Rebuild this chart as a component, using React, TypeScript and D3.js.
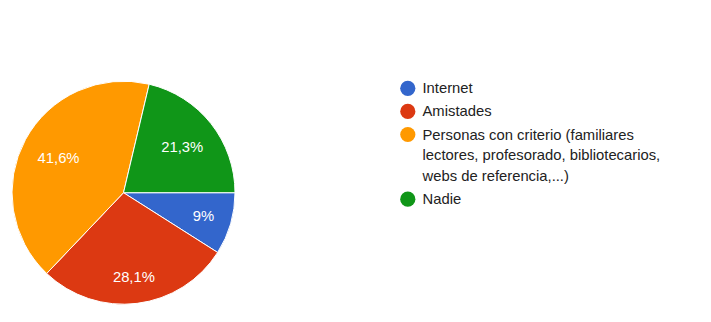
import React from "react";
import * as d3 from "d3";

const categories = [
  "Internet",
  "Amistades",
  "Personas con criterio (familiares lectores, profesorado, bibliotecarios, webs de referencia,...)",
  "Nadie",
];
const values = [9, 28.1, 41.6, 21.3];
const valueLabels = ["9%", "28,1%", "41,6%", "21,3%"];
const colors = ["#3366cc", "#dc3912", "#ff9900", "#109618"];

const W = 711;
const H = 322;
const FONT = "Arial, 'Liberation Sans', sans-serif";
const FS = 14.8;

let ctx: CanvasRenderingContext2D | null = null;
function measure(text: string, size = FS) {
  if (!ctx) {
    const c = document.createElement("canvas");
    ctx = c.getContext("2d");
  }
  if (!ctx) return text.length * size * 0.5;
  ctx.font = `${size}px Arial, 'Liberation Sans', sans-serif`;
  return ctx.measureText(text).width;
}

function wrap(text: string, maxW: number) {
  const words = text.split(" ");
  const lines: string[] = [];
  let cur = "";
  for (const w of words) {
    const t = cur ? cur + " " + w : w;
    if (cur && measure(t) > maxW) {
      lines.push(cur);
      cur = w;
    } else cur = t;
  }
  if (cur) lines.push(cur);
  return lines;
}

export default function App() {
  const cx = 123.5;
  const cy = 192.7;
  const R = 111.5;

  const pie = d3
    .pie<number>()
    .sort(null)
    .startAngle(Math.PI / 2)
    .endAngle(Math.PI / 2 + 2 * Math.PI);
  const arcs = pie(values);
  const arcGen = d3.arc<d3.PieArcDatum<number>>().innerRadius(0).outerRadius(R);

  const D = 95;
  const labelPos = arcs.map((a, i) => {
    const th = (a.startAngle + a.endAngle) / 2;
    const s = Math.abs(Math.sin(th));
    const c = Math.abs(Math.cos(th));
    const aw = measure(valueLabels[i]) / 2;
    const bh = 5.3;
    const k = s * aw + c * bh;
    const r = -k + Math.sqrt(k * k - (aw * aw + bh * bh - D * D));
    return [r * Math.sin(th), -r * Math.cos(th)];
  });

  const legendX = 407.8;
  const textX = 422.5;
  const lineH = 20.8;
  let y = 88.3;
  const legendRows = categories.map((cat) => {
    const lines = wrap(cat, 255);
    const row = { y, lines };
    y += (lines.length - 1) * lineH + 23.1;
    return row;
  });

  return (
    <svg width={W} height={H} style={{ position: "absolute", left: 0, top: 0, background: "#fff" }}>
      <g transform={`translate(${cx},${cy})`}>
        {arcs.map((a, i) => (
          <path key={i} d={arcGen(a) || ""} fill={colors[i]} stroke="#fff" strokeWidth={1} />
        ))}
        {arcs.map((a, i) => (
          <text
            key={"l" + i}
            x={labelPos[i][0]}
            y={labelPos[i][1] + 5.3}
            textAnchor="middle"
            fontFamily={FONT}
            fontSize={FS}
            fill="#fff"
          >
            {valueLabels[i]}
          </text>
        ))}
      </g>
      {legendRows.map((row, i) => (
        <g key={i}>
          <circle cx={legendX} cy={row.y} r={7.6} fill={colors[i]} />
          {row.lines.map((ln, j) => (
            <text
              key={j}
              x={textX}
              y={row.y + 5 + j * lineH}
              fontFamily={FONT}
              fontSize={FS}
              fill="#222"
            >
              {ln}
            </text>
          ))}
        </g>
      ))}
    </svg>
  );
}
